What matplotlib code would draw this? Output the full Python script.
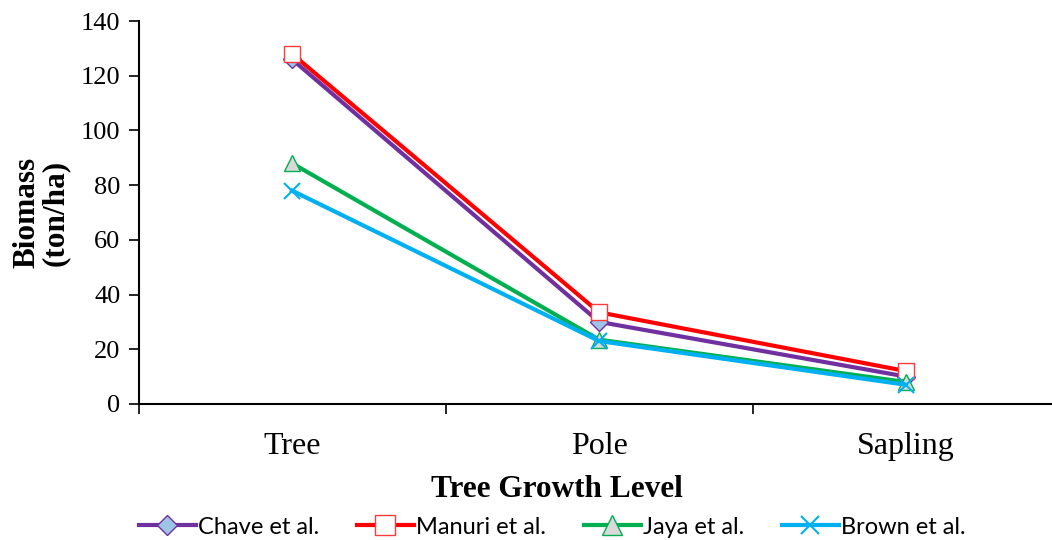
import matplotlib.pyplot as plt
from matplotlib.ticker import FixedLocator, NullFormatter

levels = ["Tree", "Pole", "Sapling"]
chave = [126, 30, 10]
manuri = [128, 33.5, 12]
jaya = [88, 23.5, 8]
brown = [78, 23, 7]

series = [
    ("Chave et al.", chave, dict(color="#7030a0", marker="D", markersize=9,
                                  markerfacecolor="#9dc3e6", markeredgecolor="#7030a0")),
    ("Manuri et al.", manuri, dict(color="#ff0000", marker="s", markersize=12,
                                    markerfacecolor="white", markeredgecolor="#ff3b3b")),
    ("Jaya et al.", jaya, dict(color="#00b050", marker="^", markersize=12,
                                markerfacecolor="#d9d9d9", markeredgecolor="#00b050")),
    ("Brown et al.", brown, dict(color="#00b0f0", marker="x", markersize=11,
                                  markeredgecolor="#00b0f0", markeredgewidth=1.5)),
]

plt.rcParams["font.family"] = ["Liberation Serif", "DejaVu Serif"]

fig = plt.figure(figsize=(10.52, 5.4), dpi=100)
# the right end of the category axis runs slightly past the figure edge
ax = fig.add_axes([0.1317, 0.252, 0.8755, 0.709])

x = list(range(len(levels)))
for name, values, style in series:
    ax.plot(x, values, linewidth=3, label=name, **style)

ax.set_xlim(-0.5, len(levels) - 0.5)
ax.set_ylim(0, 140)
ax.set_yticks(range(0, 141, 20))
ax.xaxis.set_major_locator(FixedLocator([i - 0.5 for i in range(len(levels) + 1)]))
ax.xaxis.set_major_formatter(NullFormatter())
ax.xaxis.set_minor_locator(FixedLocator(x))
ax.set_xticklabels(levels, minor=True, fontsize=23)
ax.tick_params(axis="x", which="minor", length=0, pad=20)
ax.tick_params(axis="x", which="major", length=7, width=1.2, direction="out")
ax.tick_params(axis="y", length=7, width=1.2, direction="out", pad=6, labelsize=19)

for side in ("top", "right"):
    ax.spines[side].set_visible(False)
for side in ("left", "bottom"):
    ax.spines[side].set_linewidth(1.5)

ax.set_xlabel("Tree Growth Level", fontsize=22.5, fontweight="bold", labelpad=10)
ax.xaxis.label.set_x(0.454)
ax.set_ylabel("Biomass\n(ton/ha)", fontsize=22.5, fontweight="bold",
              linespacing=0.95, labelpad=8)

fig.legend(loc="lower center", bbox_to_anchor=(0.525, -0.035), ncol=4,
           frameon=False, handlelength=2.4, handletextpad=0.1, markerscale=1.15,
           columnspacing=1.6, prop={"family": ["Lato", "DejaVu Sans"], "size": 17})

fig.savefig("out.png", dpi=100)
